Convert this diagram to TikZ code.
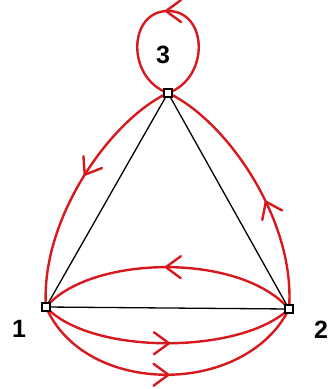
\documentclass[tikz,border=0pt]{standalone}
\usepackage{fontspec}
\newfontfamily\lblfont{Liberation Sans}
\usetikzlibrary{decorations.markings,backgrounds}
\definecolor{penred}{RGB}{215,25,30}
\begin{document}
\begin{tikzpicture}[x=1pt,y=-1pt,
  vtx/.style={draw=black,fill=white,line width=1.4pt,minimum size=8pt,inner sep=0pt,rectangle},
  lbl/.style={font=\lblfont\bfseries\fontsize{25}{27}\selectfont},
  edge/.style={draw=black,line width=1.3pt},
  walk/.style={draw=penred,line width=2.4pt},
  midarrow/.style={postaction={decorate,decoration={markings,
    mark=at position #1 with {\draw[penred,line width=2.4pt,line cap=round,line join=round]
      (-13pt,-11pt) -- (2pt,0pt) -- (-13pt,11pt);}}}}]
\useasboundingbox (0,0) rectangle (335,389);
\node[vtx] (n1) at (46,307) {};
\node[vtx] (n2) at (289,309) {};
\node[vtx] (n3) at (168,93) {};
\node[lbl] (l1) at (19,329) {1};
\node[lbl] (l2) at (321,330) {2};
\node[lbl] (l3) at (163,55) {3};
\begin{scope}[on background layer]
\draw[edge] (n1.center) -- (n2.center) -- (n3.center) -- cycle;
\draw[walk,midarrow=0.5] (n3.center) .. controls (210,78) and (208,11) .. (168,11)
   .. controls (128,11) and (126,78) .. (n3.center);
\draw[walk,midarrow=0.45] (n3.center) .. controls (110,120) and (40,220) .. (n1.center);
\draw[walk,midarrow=0.42] (n2.center) .. controls (296,220) and (226,120) .. (n3.center);
\draw[walk,midarrow=0.5] (n2.center) .. controls (240,252) and (90,255) .. (n1.center);
\draw[walk,midarrow=0.5] (n1.center) .. controls (90,355) and (240,355) .. (n2.center);
\draw[walk,midarrow=0.5] (n1.center) .. controls (85,397) and (245,397) .. (n2.center);
\end{scope}
\end{tikzpicture}
\end{document}
